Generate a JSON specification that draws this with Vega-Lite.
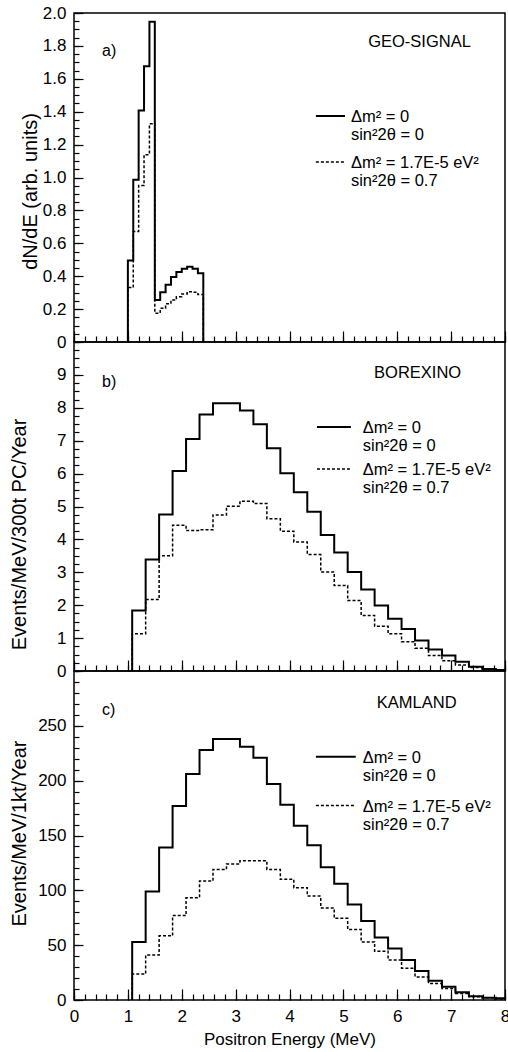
{
  "$schema": "https://vega.github.io/schema/vega-lite/v6.json",
  "padding": {"left": 8, "top": 3, "right": 0, "bottom": 0},
  "spacing": 0,
  "bounds": "flush",
  "config": {
    "font": "Liberation Sans",
    "view": {"stroke": "black", "strokeWidth": 1.5},
    "axis": {"ticks": true, "zindex": 1, "domain": false, "tickColor": "black", "tickWidth": 1.2, "tickOpacity": 1, "labelColor": "black", "titleColor": "black", "labelFont": "Liberation Sans", "titleFont": "Liberation Sans", "labelFontSize": 17, "titleFontSize": 17, "titleFontWeight": "normal", "grid": false, "labelOverlap": false, "labelFlush": false, "labelBound": false},
    "text": {"font": "Liberation Sans", "fontSize": 16, "color": "black"}
  },
  "datasets": {
    "geo": [
      {"E": 1.0, "rate": 0, "case": "no-osc"}, {"E": 1.0, "rate": 0.495, "case": "no-osc"}, {"E": 1.1, "rate": 0.987, "case": "no-osc"}, {"E": 1.2, "rate": 1.407, "case": "no-osc"}, {"E": 1.3, "rate": 1.677, "case": "no-osc"}, {"E": 1.4, "rate": 1.947, "case": "no-osc"}, {"E": 1.5, "rate": 0.256, "case": "no-osc"}, {"E": 1.6, "rate": 0.303, "case": "no-osc"}, {"E": 1.7, "rate": 0.348, "case": "no-osc"}, {"E": 1.8, "rate": 0.395, "case": "no-osc"}, {"E": 1.9, "rate": 0.425, "case": "no-osc"}, {"E": 2.0, "rate": 0.445, "case": "no-osc"}, {"E": 2.1, "rate": 0.457, "case": "no-osc"}, {"E": 2.2, "rate": 0.445, "case": "no-osc"}, {"E": 2.3, "rate": 0.418, "case": "no-osc"}, {"E": 2.4, "rate": 0, "case": "no-osc"},
      {"E": 1.0, "rate": 0, "case": "osc"}, {"E": 1.0, "rate": 0.331, "case": "osc"}, {"E": 1.1, "rate": 0.672, "case": "osc"}, {"E": 1.2, "rate": 0.952, "case": "osc"}, {"E": 1.3, "rate": 1.139, "case": "osc"}, {"E": 1.4, "rate": 1.326, "case": "osc"}, {"E": 1.5, "rate": 0.175, "case": "osc"}, {"E": 1.6, "rate": 0.205, "case": "osc"}, {"E": 1.7, "rate": 0.232, "case": "osc"}, {"E": 1.8, "rate": 0.255, "case": "osc"}, {"E": 1.9, "rate": 0.275, "case": "osc"}, {"E": 2.0, "rate": 0.292, "case": "osc"}, {"E": 2.1, "rate": 0.305, "case": "osc"}, {"E": 2.2, "rate": 0.302, "case": "osc"}, {"E": 2.3, "rate": 0.288, "case": "osc"}, {"E": 2.4, "rate": 0, "case": "osc"}
    ],
    "borexino": [
      {"E": 1.08, "rate": 0, "case": "no-osc"}, {"E": 1.08, "rate": 1.84, "case": "no-osc"}, {"E": 1.33, "rate": 3.39, "case": "no-osc"}, {"E": 1.58, "rate": 4.76, "case": "no-osc"}, {"E": 1.83, "rate": 6.08, "case": "no-osc"}, {"E": 2.08, "rate": 7.05, "case": "no-osc"}, {"E": 2.33, "rate": 7.8, "case": "no-osc"}, {"E": 2.58, "rate": 8.14, "case": "no-osc"}, {"E": 2.83, "rate": 8.14, "case": "no-osc"}, {"E": 3.08, "rate": 7.92, "case": "no-osc"}, {"E": 3.33, "rate": 7.5, "case": "no-osc"}, {"E": 3.58, "rate": 6.77, "case": "no-osc"}, {"E": 3.83, "rate": 6.01, "case": "no-osc"}, {"E": 4.08, "rate": 5.43, "case": "no-osc"}, {"E": 4.33, "rate": 4.84, "case": "no-osc"}, {"E": 4.58, "rate": 4.13, "case": "no-osc"}, {"E": 4.83, "rate": 3.6, "case": "no-osc"}, {"E": 5.08, "rate": 3.01, "case": "no-osc"}, {"E": 5.33, "rate": 2.48, "case": "no-osc"}, {"E": 5.58, "rate": 1.99, "case": "no-osc"}, {"E": 5.83, "rate": 1.59, "case": "no-osc"}, {"E": 6.08, "rate": 1.28, "case": "no-osc"}, {"E": 6.33, "rate": 0.93, "case": "no-osc"}, {"E": 6.58, "rate": 0.65, "case": "no-osc"}, {"E": 6.83, "rate": 0.47, "case": "no-osc"}, {"E": 7.08, "rate": 0.28, "case": "no-osc"}, {"E": 7.33, "rate": 0.13, "case": "no-osc"}, {"E": 7.58, "rate": 0.06, "case": "no-osc"}, {"E": 7.83, "rate": 0.03, "case": "no-osc"}, {"E": 8.0, "rate": 0.03, "case": "no-osc"},
      {"E": 1.08, "rate": 0, "case": "osc"}, {"E": 1.08, "rate": 1.13, "case": "osc"}, {"E": 1.33, "rate": 2.17, "case": "osc"}, {"E": 1.58, "rate": 3.5, "case": "osc"}, {"E": 1.83, "rate": 4.43, "case": "osc"}, {"E": 2.08, "rate": 4.27, "case": "osc"}, {"E": 2.33, "rate": 4.29, "case": "osc"}, {"E": 2.58, "rate": 4.74, "case": "osc"}, {"E": 2.83, "rate": 5.01, "case": "osc"}, {"E": 3.08, "rate": 5.16, "case": "osc"}, {"E": 3.33, "rate": 5.09, "case": "osc"}, {"E": 3.58, "rate": 4.63, "case": "osc"}, {"E": 3.83, "rate": 4.25, "case": "osc"}, {"E": 4.08, "rate": 3.92, "case": "osc"}, {"E": 4.33, "rate": 3.54, "case": "osc"}, {"E": 4.58, "rate": 3.01, "case": "osc"}, {"E": 4.83, "rate": 2.6, "case": "osc"}, {"E": 5.08, "rate": 2.14, "case": "osc"}, {"E": 5.33, "rate": 1.69, "case": "osc"}, {"E": 5.58, "rate": 1.36, "case": "osc"}, {"E": 5.83, "rate": 1.13, "case": "osc"}, {"E": 6.08, "rate": 0.89, "case": "osc"}, {"E": 6.33, "rate": 0.69, "case": "osc"}, {"E": 6.58, "rate": 0.47, "case": "osc"}, {"E": 6.83, "rate": 0.31, "case": "osc"}, {"E": 7.08, "rate": 0.18, "case": "osc"}, {"E": 7.33, "rate": 0.11, "case": "osc"}, {"E": 7.58, "rate": 0.06, "case": "osc"}, {"E": 7.83, "rate": 0.03, "case": "osc"}, {"E": 8.0, "rate": 0.03, "case": "osc"}
    ],
    "kamland": [
      {"E": 1.08, "rate": 0, "case": "no-osc"}, {"E": 1.08, "rate": 53, "case": "no-osc"}, {"E": 1.33, "rate": 99, "case": "no-osc"}, {"E": 1.58, "rate": 139, "case": "no-osc"}, {"E": 1.83, "rate": 177, "case": "no-osc"}, {"E": 2.08, "rate": 206, "case": "no-osc"}, {"E": 2.33, "rate": 228, "case": "no-osc"}, {"E": 2.58, "rate": 238, "case": "no-osc"}, {"E": 2.83, "rate": 238, "case": "no-osc"}, {"E": 3.08, "rate": 231, "case": "no-osc"}, {"E": 3.33, "rate": 221, "case": "no-osc"}, {"E": 3.58, "rate": 197, "case": "no-osc"}, {"E": 3.83, "rate": 178, "case": "no-osc"}, {"E": 4.08, "rate": 159, "case": "no-osc"}, {"E": 4.33, "rate": 141, "case": "no-osc"}, {"E": 4.58, "rate": 121, "case": "no-osc"}, {"E": 4.83, "rate": 106, "case": "no-osc"}, {"E": 5.08, "rate": 87, "case": "no-osc"}, {"E": 5.33, "rate": 72, "case": "no-osc"}, {"E": 5.58, "rate": 57, "case": "no-osc"}, {"E": 5.83, "rate": 47, "case": "no-osc"}, {"E": 6.08, "rate": 36.5, "case": "no-osc"}, {"E": 6.33, "rate": 26.5, "case": "no-osc"}, {"E": 6.58, "rate": 17.6, "case": "no-osc"}, {"E": 6.83, "rate": 12, "case": "no-osc"}, {"E": 7.08, "rate": 7, "case": "no-osc"}, {"E": 7.33, "rate": 3.5, "case": "no-osc"}, {"E": 7.58, "rate": 2, "case": "no-osc"}, {"E": 7.83, "rate": 1.5, "case": "no-osc"}, {"E": 8.0, "rate": 1.5, "case": "no-osc"},
      {"E": 1.08, "rate": 0, "case": "osc"}, {"E": 1.08, "rate": 23.6, "case": "osc"}, {"E": 1.33, "rate": 41, "case": "osc"}, {"E": 1.58, "rate": 58.5, "case": "osc"}, {"E": 1.83, "rate": 77, "case": "osc"}, {"E": 2.08, "rate": 93.3, "case": "osc"}, {"E": 2.33, "rate": 108.5, "case": "osc"}, {"E": 2.58, "rate": 119, "case": "osc"}, {"E": 2.83, "rate": 124, "case": "osc"}, {"E": 3.08, "rate": 127, "case": "osc"}, {"E": 3.33, "rate": 127, "case": "osc"}, {"E": 3.58, "rate": 119, "case": "osc"}, {"E": 3.83, "rate": 110, "case": "osc"}, {"E": 4.08, "rate": 102.4, "case": "osc"}, {"E": 4.33, "rate": 94.8, "case": "osc"}, {"E": 4.58, "rate": 84, "case": "osc"}, {"E": 4.83, "rate": 74.5, "case": "osc"}, {"E": 5.08, "rate": 64.3, "case": "osc"}, {"E": 5.33, "rate": 53, "case": "osc"}, {"E": 5.58, "rate": 44.5, "case": "osc"}, {"E": 5.83, "rate": 36.5, "case": "osc"}, {"E": 6.08, "rate": 29, "case": "osc"}, {"E": 6.33, "rate": 21, "case": "osc"}, {"E": 6.58, "rate": 15, "case": "osc"}, {"E": 6.83, "rate": 10.5, "case": "osc"}, {"E": 7.08, "rate": 6, "case": "osc"}, {"E": 7.33, "rate": 3, "case": "osc"}, {"E": 7.58, "rate": 2, "case": "osc"}, {"E": 7.83, "rate": 1, "case": "osc"}, {"E": 8.0, "rate": 1, "case": "osc"}
    ],
    "one": [{}]
  },
  "vconcat": [
    {
      "width": 431, "height": 329,
      "resolve": {"axis": {"x": "independent", "y": "independent"}},
      "layer": [
        {
          "data": {"name": "geo"},
          "transform": [{"filter": "datum.case === 'no-osc'"}],
          "mark": {"type": "line", "interpolate": "step-after", "color": "black", "strokeWidth": 2},
          "encoding": {
            "x": {"field": "E", "type": "quantitative", "scale": {"domain": [0, 8], "nice": false, "zero": false},
              "axis": {"orient": "bottom", "tickSize": -6, "values": [0,0.2,0.4,0.6,0.8,1,1.2,1.4,1.6,1.8,2,2.2,2.4,2.6,2.8,3,3.2,3.4,3.6,3.8,4,4.2,4.4,4.6,4.8,5,5.2,5.4,5.6,5.8,6,6.2,6.4,6.6,6.8,7,7.2,7.4,7.6,7.8,8], "labels": false, "title": null}},
            "y": {"field": "rate", "type": "quantitative", "scale": {"domain": [0, 2], "nice": false},
              "axis": {"orient": "left", "tickSize": -5, "values": [0,0.05,0.1,0.15,0.2,0.25,0.3,0.35,0.4,0.45,0.5,0.55,0.6,0.65,0.7,0.75,0.8,0.85,0.9,0.95,1,1.05,1.1,1.15,1.2,1.25,1.3,1.35,1.4,1.45,1.5,1.55,1.6,1.65,1.7,1.75,1.8,1.85,1.9,1.95,2], "labels": false, "title": null}},
            "order": {"value": null}
          }
        },
        {
          "data": {"name": "geo"},
          "transform": [{"filter": "datum.case === 'osc'"}],
          "mark": {"type": "line", "interpolate": "step-after", "color": "black", "strokeWidth": 1.5, "strokeDash": [3, 2]},
          "encoding": {
            "x": {"field": "E", "type": "quantitative",
              "axis": {"orient": "bottom", "tickSize": -11, "values": [0,1,2,3,4,5,6,7,8], "labels": false, "title": null}},
            "y": {"field": "rate", "type": "quantitative",
              "axis": {"orient": "left", "tickSize": -9, "values": [0,0.2,0.4,0.6,0.8,1,1.2,1.4,1.6,1.8,2], "labelPadding": 17,
                "labelExpr": "datum.value == 0 ? '0' : format(datum.value, '.1f')",
                "title": "dN/dE (arb. units)", "titleFontSize": 20, "titleX": -44, "titleY": 178, "titleBaseline": "middle", "titleAlign": "center"}},
            "order": {"value": null}
          }
        },
        {"data": {"name": "one"}, "mark": {"type": "text", "align": "left", "baseline": "middle", "text": "a)"}, "encoding": {"x": {"datum": 0.52, "axis": null}, "y": {"datum": 1.769, "axis": null}}},
        {"data": {"name": "one"}, "mark": {"type": "text", "align": "left", "baseline": "middle", "fontSize": 16.5, "text": "GEO-SIGNAL"}, "encoding": {"x": {"datum": 5.46, "axis": null}, "y": {"datum": 1.824, "axis": null}}},
        {"data": {"name": "one"}, "mark": {"type": "rule", "color": "black", "strokeWidth": 2}, "encoding": {"x": {"datum": 4.49, "axis": null}, "x2": {"datum": 5.03}, "y": {"datum": 1.374, "axis": null}}},
        {"data": {"name": "one"}, "mark": {"type": "text", "align": "left", "baseline": "top", "fontSize": 16.5, "lineHeight": 18, "text": ["Δm² = 0", "sin²2θ = 0"]}, "encoding": {"x": {"datum": 5.14, "axis": null}, "y": {"datum": 1.416, "axis": null}}},
        {"data": {"name": "one"}, "mark": {"type": "rule", "color": "black", "strokeWidth": 1.5, "strokeDash": [3, 2]}, "encoding": {"x": {"datum": 4.49, "axis": null}, "x2": {"datum": 5.03}, "y": {"datum": 1.094, "axis": null}}},
        {"data": {"name": "one"}, "mark": {"type": "text", "align": "left", "baseline": "top", "fontSize": 16.5, "lineHeight": 18, "text": ["Δm² = 1.7E-5 eV²", "sin²2θ = 0.7"]}, "encoding": {"x": {"datum": 5.14, "axis": null}, "y": {"datum": 1.137, "axis": null}}}
      ]
    },
    {
      "width": 431, "height": 329,
      "resolve": {"axis": {"x": "independent", "y": "independent"}},
      "layer": [
        {
          "data": {"name": "borexino"},
          "transform": [{"filter": "datum.case === 'no-osc'"}],
          "mark": {"type": "line", "interpolate": "step-after", "color": "black", "strokeWidth": 2},
          "encoding": {
            "x": {"field": "E", "type": "quantitative", "scale": {"domain": [0, 8], "nice": false, "zero": false},
              "axis": {"orient": "bottom", "tickSize": -6, "values": [0,0.2,0.4,0.6,0.8,1,1.2,1.4,1.6,1.8,2,2.2,2.4,2.6,2.8,3,3.2,3.4,3.6,3.8,4,4.2,4.4,4.6,4.8,5,5.2,5.4,5.6,5.8,6,6.2,6.4,6.6,6.8,7,7.2,7.4,7.6,7.8,8], "labels": false, "title": null}},
            "y": {"field": "rate", "type": "quantitative", "scale": {"domain": [0, 10], "nice": false},
              "axis": {"orient": "left", "tickSize": -5, "values": [0,0.25,0.5,0.75,1,1.25,1.5,1.75,2,2.25,2.5,2.75,3,3.25,3.5,3.75,4,4.25,4.5,4.75,5,5.25,5.5,5.75,6,6.25,6.5,6.75,7,7.25,7.5,7.75,8,8.25,8.5,8.75,9,9.25,9.5,9.75,10], "labels": false, "title": null}},
            "order": {"value": null}
          }
        },
        {
          "data": {"name": "borexino"},
          "transform": [{"filter": "datum.case === 'osc'"}],
          "mark": {"type": "line", "interpolate": "step-after", "color": "black", "strokeWidth": 1.5, "strokeDash": [3, 2]},
          "encoding": {
            "x": {"field": "E", "type": "quantitative",
              "axis": {"orient": "bottom", "tickSize": -11, "values": [0,1,2,3,4,5,6,7,8], "labels": false, "title": null}},
            "y": {"field": "rate", "type": "quantitative",
              "axis": {"orient": "left", "tickSize": -9, "values": [0,1,2,3,4,5,6,7,8,9], "labelPadding": 17, "format": "d",
                "title": "Events/MeV/300t PC/Year", "titleFontSize": 20, "titleX": -55, "titleY": 192, "titleBaseline": "middle", "titleAlign": "center"}},
            "order": {"value": null}
          }
        },
        {"data": {"name": "one"}, "mark": {"type": "text", "align": "left", "baseline": "middle", "text": "b)"}, "encoding": {"x": {"datum": 0.52, "axis": null}, "y": {"datum": 8.78, "axis": null}}},
        {"data": {"name": "one"}, "mark": {"type": "text", "align": "left", "baseline": "middle", "fontSize": 16.5, "text": "BOREXINO"}, "encoding": {"x": {"datum": 5.57, "axis": null}, "y": {"datum": 9.06, "axis": null}}},
        {"data": {"name": "one"}, "mark": {"type": "rule", "color": "black", "strokeWidth": 2}, "encoding": {"x": {"datum": 4.51, "axis": null}, "x2": {"datum": 5.14}, "y": {"datum": 7.42, "axis": null}}},
        {"data": {"name": "one"}, "mark": {"type": "text", "align": "left", "baseline": "top", "fontSize": 16.5, "lineHeight": 18, "text": ["Δm² = 0", "sin²2θ = 0"]}, "encoding": {"x": {"datum": 5.36, "axis": null}, "y": {"datum": 7.63, "axis": null}}},
        {"data": {"name": "one"}, "mark": {"type": "rule", "color": "black", "strokeWidth": 1.5, "strokeDash": [3, 2]}, "encoding": {"x": {"datum": 4.51, "axis": null}, "x2": {"datum": 5.14}, "y": {"datum": 6.14, "axis": null}}},
        {"data": {"name": "one"}, "mark": {"type": "text", "align": "left", "baseline": "top", "fontSize": 16.5, "lineHeight": 18, "text": ["Δm² = 1.7E-5 eV²", "sin²2θ = 0.7"]}, "encoding": {"x": {"datum": 5.36, "axis": null}, "y": {"datum": 6.35, "axis": null}}}
      ]
    },
    {
      "width": 431, "height": 329,
      "resolve": {"axis": {"x": "independent", "y": "independent"}},
      "layer": [
        {
          "data": {"name": "kamland"},
          "transform": [{"filter": "datum.case === 'no-osc'"}],
          "mark": {"type": "line", "interpolate": "step-after", "color": "black", "strokeWidth": 2},
          "encoding": {
            "x": {"field": "E", "type": "quantitative", "scale": {"domain": [0, 8], "nice": false, "zero": false},
              "axis": {"orient": "bottom", "tickSize": -6, "values": [0,0.2,0.4,0.6,0.8,1,1.2,1.4,1.6,1.8,2,2.2,2.4,2.6,2.8,3,3.2,3.4,3.6,3.8,4,4.2,4.4,4.6,4.8,5,5.2,5.4,5.6,5.8,6,6.2,6.4,6.6,6.8,7,7.2,7.4,7.6,7.8,8], "labels": false, "title": null}},
            "y": {"field": "rate", "type": "quantitative", "scale": {"domain": [0, 300], "nice": false},
              "axis": {"orient": "left", "tickSize": -5, "values": [0,10,20,30,40,50,60,70,80,90,100,110,120,130,140,150,160,170,180,190,200,210,220,230,240,250,260,270,280,290,300], "labels": false, "title": null}},
            "order": {"value": null}
          }
        },
        {
          "data": {"name": "kamland"},
          "transform": [{"filter": "datum.case === 'osc'"}],
          "mark": {"type": "line", "interpolate": "step-after", "color": "black", "strokeWidth": 1.5, "strokeDash": [3, 2]},
          "encoding": {
            "x": {"field": "E", "type": "quantitative",
              "axis": {"orient": "bottom", "tickSize": -11, "values": [0,1,2,3,4,5,6,7,8], "labelPadding": 19, "format": "d",
                "title": "Positron Energy (MeV)", "titleY": 39, "titleBaseline": "middle"}},
            "y": {"field": "rate", "type": "quantitative",
              "axis": {"orient": "left", "tickSize": -9, "values": [0,50,100,150,200,250], "labelPadding": 17, "format": "d",
                "title": "Events/MeV/1kt/Year", "titleFontSize": 20, "titleX": -55, "titleY": 162, "titleBaseline": "middle", "titleAlign": "center"}},
            "order": {"value": null}
          }
        },
        {"data": {"name": "one"}, "mark": {"type": "text", "align": "left", "baseline": "middle", "text": "c)"}, "encoding": {"x": {"datum": 0.52, "axis": null}, "y": {"datum": 264.5, "axis": null}}},
        {"data": {"name": "one"}, "mark": {"type": "text", "align": "left", "baseline": "middle", "fontSize": 16.5, "text": "KAMLAND"}, "encoding": {"x": {"datum": 5.62, "axis": null}, "y": {"datum": 271, "axis": null}}},
        {"data": {"name": "one"}, "mark": {"type": "rule", "color": "black", "strokeWidth": 2}, "encoding": {"x": {"datum": 4.49, "axis": null}, "x2": {"datum": 5.23}, "y": {"datum": 221.8, "axis": null}}},
        {"data": {"name": "one"}, "mark": {"type": "text", "align": "left", "baseline": "top", "fontSize": 16.5, "lineHeight": 18, "text": ["Δm² = 0", "sin²2θ = 0"]}, "encoding": {"x": {"datum": 5.36, "axis": null}, "y": {"datum": 228, "axis": null}}},
        {"data": {"name": "one"}, "mark": {"type": "rule", "color": "black", "strokeWidth": 1.5, "strokeDash": [3, 2]}, "encoding": {"x": {"datum": 4.49, "axis": null}, "x2": {"datum": 5.23}, "y": {"datum": 177.3, "axis": null}}},
        {"data": {"name": "one"}, "mark": {"type": "text", "align": "left", "baseline": "top", "fontSize": 16.5, "lineHeight": 18, "text": ["Δm² = 1.7E-5 eV²", "sin²2θ = 0.7"]}, "encoding": {"x": {"datum": 5.36, "axis": null}, "y": {"datum": 183.6, "axis": null}}}
      ]
    }
  ]
}
